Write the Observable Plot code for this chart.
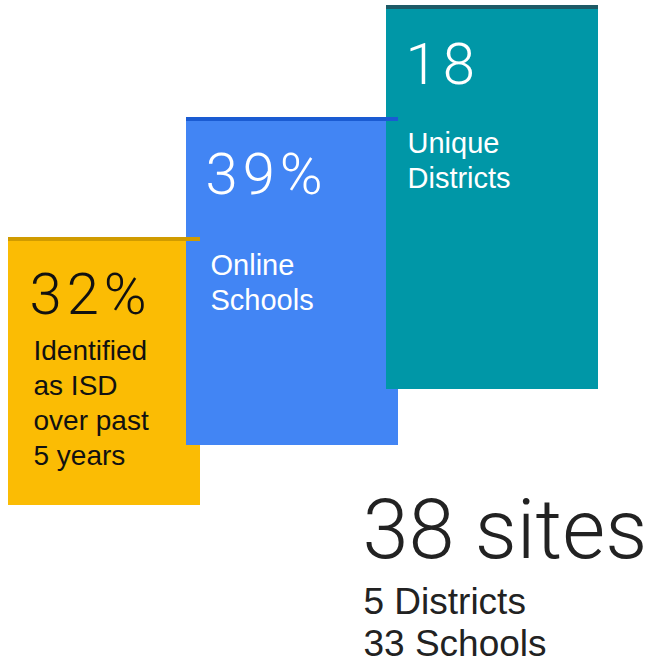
<!DOCTYPE html>
<html>
<head>
<meta charset="utf-8">
<script src="https://cdn.jsdelivr.net/npm/d3@7"></script>
<script src="https://cdn.jsdelivr.net/npm/@observablehq/plot@0.6"></script>
<style>
  html, body { margin: 0; padding: 0; background: #fff; }
  #chart svg { display: block; }
</style>
</head>
<body>
<div id="chart"></div>
<script>
// ---- data ----
const stats = ["32%", "39%", "18"];
const statLabels = [
  ["Identified", "as ISD", "over past", "5 years"],
  ["Online", "Schools"],
  ["Unique", "Districts"]
];
const totalHeadline = "38 sites";
const totalBreakdown = ["5 Districts", "33 Schools"];

// ---- layout (pixel space of the card) ----
const boxes = [
  {x1: 8,   x2: 200, y1: 237, y2: 505, fill: "#FBBC04", edge: "#D09B00", ink: "#111111", numX: 29,  numY: 313, labX: 33,  labY: 359, labSize: 28},
  {x1: 186, x2: 398, y1: 117, y2: 445, fill: "#4285F4", edge: "#1A5BD2", ink: "#ffffff", numX: 205, numY: 193, labX: 210, labY: 274, labSize: 29},
  {x1: 386, x2: 598, y1: 5,   y2: 389, fill: "#0097A7", edge: "#1D5A66", ink: "#ffffff", numX: 405, numY: 83,  labX: 407, labY: 152, labSize: 29}
];
const lineStep = 35;

const numRows = boxes.map((b, i) => ({x: b.numX, y: b.numY, text: stats[i], ink: b.ink}));
const labRows = boxes.flatMap((b, i) =>
  statLabels[i].map((t, j) => ({x: b.labX, y: b.labY + j * lineStep, text: t, ink: b.ink, size: b.labSize})));
const edgeRows = boxes.map(b => ({x1: b.x1, x2: b.x2, y1: b.y1, y2: b.y1 + 4, fill: b.edge}));
const totalRows = [{x: 362, y: 557, text: totalHeadline}];
const breakdownRows = totalBreakdown.map((t, j) => ({x: 363, y: 613 + j * 42, text: t}));

const labelFont = "Arial, 'Liberation Sans', Helvetica, sans-serif";

const chart = Plot.plot({
  width: 648,
  height: 663,
  margin: 0,
  x: {domain: [0, 648], range: [0, 648], axis: null},
  y: {domain: [0, 663], range: [0, 663], axis: null},
  marks: [
    Plot.rect(boxes, {x1: "x1", x2: "x2", y1: "y1", y2: "y2", fill: d => d.fill}),
    Plot.rect(edgeRows, {x1: "x1", x2: "x2", y1: "y1", y2: "y2", fill: d => d.fill}),
    Plot.text(numRows, {x: "x", y: "y", text: "text", fill: d => d.ink, textAnchor: "start", lineAnchor: "bottom",
      fontSize: 58, fontFamily: "Roboto", fontWeight: 300}),
    Plot.text(labRows.filter(d => d.size === 28), {x: "x", y: "y", text: "text", fill: d => d.ink, textAnchor: "start", lineAnchor: "bottom",
      fontSize: 28, fontFamily: labelFont}),
    Plot.text(labRows.filter(d => d.size === 29), {x: "x", y: "y", text: "text", fill: d => d.ink, textAnchor: "start", lineAnchor: "bottom",
      fontSize: 29, fontFamily: labelFont}),
    Plot.text(totalRows, {x: "x", y: "y", text: "text", fill: "#222", textAnchor: "start", lineAnchor: "bottom",
      fontSize: 83, fontFamily: "Roboto", fontWeight: 300}),
    Plot.text(breakdownRows, {x: "x", y: "y", text: "text", fill: "#222", textAnchor: "start", lineAnchor: "bottom",
      fontSize: 37, fontFamily: labelFont})
  ]
});
chart.querySelectorAll("rect").forEach(r => r.setAttribute("shape-rendering", "crispEdges"));
const textGroups = chart.querySelectorAll('g[aria-label="text"]');
if (textGroups[0]) textGroups[0].style.letterSpacing = "5px";
document.getElementById("chart").append(chart);
</script>
</body>
</html>
